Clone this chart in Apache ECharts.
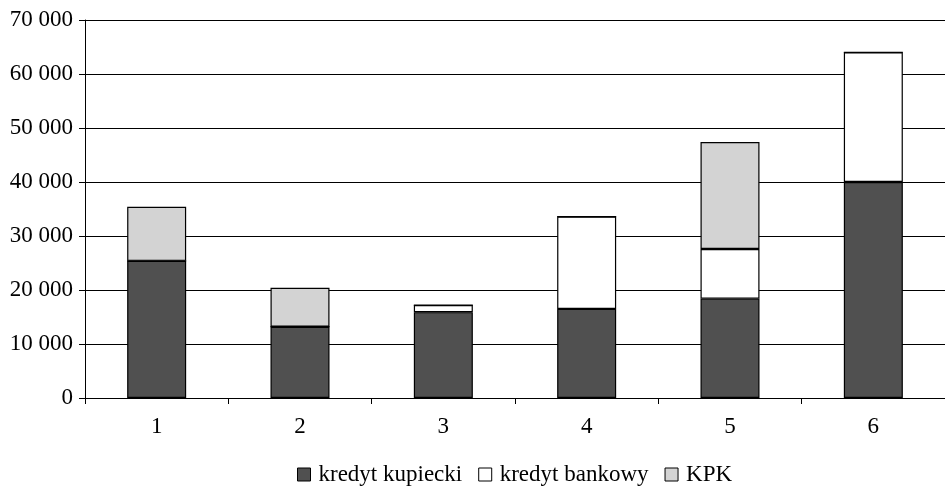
<!DOCTYPE html>
<html>
<head>
<meta charset="utf-8">
<script src="https://cdn.jsdelivr.net/npm/echarts@6/dist/echarts.min.js"></script>
<style>
  html, body { margin: 0; padding: 0; background: #fff; }
  #chart { width: 945px; height: 487px; }
</style>
</head>
<body>
<div id="chart"></div>
<script>
// Categories and stacked series values
const categories = ['1', '2', '3', '4', '5', '6'];
const kredytKupiecki = [25400, 13200, 15900, 16500, 18400, 40000];
const kredytBankowy = [0, 0, 1300, 17100, 9200, 24000];
const kpk = [10000, 7200, 0, 0, 19800, 0];
const yTicks = { min: 0, max: 70000, interval: 10000 };

const FONT = '"Liberation Serif", "DejaVu Serif", serif';
const FS = 23;

function fmt(v) {
  return String(v).replace(/\B(?=(\d{3})+(?!\d))/g, ' ');
}

function barSeries(name, data, color) {
  return {
    name: name,
    type: 'bar',
    stack: 'total',
    barWidth: 59,
    data: data,
    itemStyle: { color: color, borderColor: '#000', borderWidth: 1.2 }
  };
}

const chart = echarts.init(document.getElementById('chart'), null, { renderer: 'canvas' });
chart.setOption({
  animation: false,
  backgroundColor: '#fff',
  textStyle: { fontFamily: FONT },
  grid: { left: 85, right: 0, top: 20, bottom: 89, containLabel: false },
  legend: {
    left: 292,
    top: 458,
    itemWidth: 13,
    itemHeight: 13,
    itemGap: 16,
    icon: 'rect',
    itemStyle: { borderColor: '#000', borderWidth: 1 },
    textStyle: { fontFamily: FONT, fontSize: FS, color: '#000', padding: [0, 0, 0, 3] },
    data: ['kredyt kupiecki', 'kredyt bankowy', 'KPK']
  },
  xAxis: {
    type: 'category',
    data: categories,
    boundaryGap: true,
    axisLine: { lineStyle: { color: '#000', width: 1 } },
    axisTick: { show: true, length: 6, lineStyle: { color: '#000' } },
    axisLabel: { fontFamily: FONT, fontSize: FS, color: '#000', margin: 17 }
  },
  yAxis: {
    type: 'value',
    min: yTicks.min,
    max: yTicks.max,
    interval: yTicks.interval,
    axisLine: { show: true, lineStyle: { color: '#000', width: 1 } },
    axisTick: { show: true, length: 6, lineStyle: { color: '#000' } },
    splitLine: { lineStyle: { color: '#000', width: 1 } },
    axisLabel: { fontFamily: FONT, fontSize: FS, color: '#000', margin: 12, formatter: fmt }
  },
  series: [
    barSeries('kredyt kupiecki', kredytKupiecki, '#505050'),
    barSeries('kredyt bankowy', kredytBankowy, '#ffffff'),
    barSeries('KPK', kpk, '#d3d3d3')
  ]
});
</script>
</body>
</html>
